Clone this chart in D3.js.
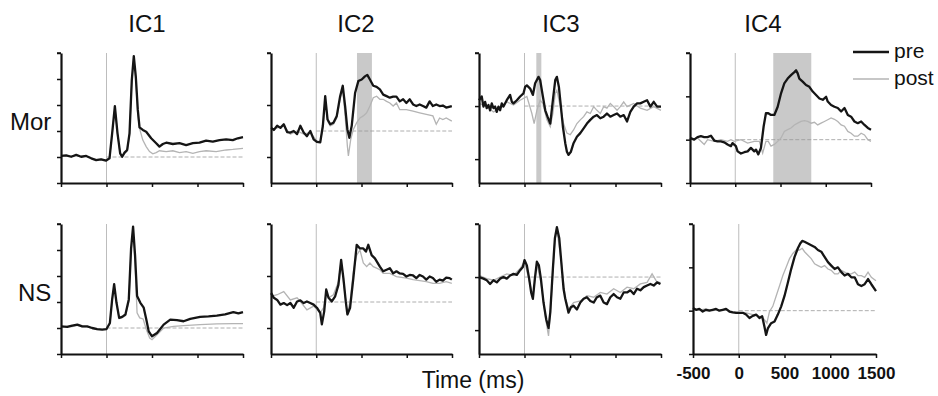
<!DOCTYPE html>
<html>
<head>
<meta charset="utf-8">
<script src="https://cdn.jsdelivr.net/npm/d3@7"></script>
<style>
  body { margin: 0; background: #fff; }
  svg { display: block; font-family: "Liberation Sans", Arial, sans-serif; }
</style>
</head>
<body>
<svg id="chart" width="938" height="396"></svg>
<script>
// time (ms), amplitude (a.u.) pairs
const ic1MorPre = [[-500,0.04],[-443,0.06],[-388,0.01],[-333,0.08],[-278,0.01],[-223,0.04],[-168,-0.05],[-114,-0.12],[-59,-0.09],[-4,-0.14],[33,-0.05],[62,0.91],[92,1.96],[121,0.91],[150,0.14],[172,0.01],[198,0.17],[227,0.27],[253,0.91],[278,2.96],[300,3.88],[322,3.09],[344,1.81],[363,1.14],[399,1.04],[436,0.97],[491,0.72],[546,0.53],[582,0.40],[619,0.50],[656,0.55],[729,0.50],[802,0.53],[875,0.46],[949,0.53],[1022,0.55],[1095,0.63],[1168,0.59],[1242,0.65],[1315,0.68],[1388,0.65],[1443,0.72],[1500,0.76]];
const ic1MorPost = [[-500,0.02],[-443,0.05],[-388,0.03],[-333,0.06],[-278,0.0],[-223,0.03],[-168,-0.04],[-114,-0.1],[-59,-0.08],[-4,-0.12],[33,-0.04],[62,0.85],[92,1.9],[121,0.9],[150,0.12],[172,0.0],[198,0.12],[227,0.22],[253,0.85],[278,2.9],[300,3.8],[322,2.96],[344,1.62],[363,1.10],[399,0.65],[436,0.40],[473,0.21],[509,0.12],[546,0.17],[582,0.24],[656,0.21],[729,0.24],[802,0.17],[875,0.21],[949,0.14],[1022,0.21],[1095,0.24],[1205,0.21],[1315,0.27],[1388,0.29],[1500,0.33]];
const ic1NsPre = [[-500,0.06],[-431,0.04],[-376,0.09],[-321,0.13],[-266,0.06],[-212,0.06],[-157,0.0],[-102,-0.04],[-47,-0.06],[0,-0.04],[37,0.19],[62,1.10],[84,1.69],[110,0.97],[139,0.39],[172,0.43],[208,0.52],[245,1.10],[270,3.05],[292,3.90],[314,2.79],[336,1.23],[372,0.97],[409,0.78],[438,0.32],[464,-0.13],[500,-0.32],[555,-0.19],[628,0.13],[701,0.32],[774,0.30],[847,0.26],[920,0.35],[1029,0.43],[1121,0.45],[1212,0.48],[1303,0.52],[1394,0.61],[1449,0.56],[1500,0.61]];
const ic1NsPost = [[-500,0.04],[-431,0.06],[-376,0.05],[-321,0.1],[-266,0.04],[-212,0.05],[-157,-0.02],[-102,-0.06],[-47,-0.05],[0,-0.05],[37,0.15],[62,1.05],[84,1.62],[110,0.95],[139,0.36],[172,0.40],[208,0.48],[245,1.0],[270,2.95],[292,3.85],[314,2.40],[336,0.58],[365,0.39],[402,0.35],[438,-0.06],[475,-0.39],[500,-0.45],[555,-0.26],[628,0.0],[737,0.06],[847,0.09],[1029,0.13],[1212,0.16],[1394,0.17],[1500,0.17]];

const ic2MorPre = [[-498,0.06],[-469,0.02],[-432,0.10],[-396,0.06],[-359,0.13],[-322,-0.02],[-286,-0.03],[-249,0.0],[-212,-0.06],[-176,0.10],[-139,-0.03],[-103,-0.10],[-66,0.0],[-29,-0.16],[7,-0.21],[44,-0.22],[73,0.10],[99,0.67],[125,0.22],[154,0.13],[190,0.16],[227,0.29],[264,0.67],[293,0.87],[319,0.48],[344,0.03],[366,-0.13],[392,0.10],[429,0.73],[465,0.96],[502,0.99],[538,1.05],[564,1.08],[593,0.99],[630,0.87],[667,0.85],[703,0.80],[740,0.70],[777,0.67],[813,0.64],[850,0.66],[886,0.66],[923,0.57],[960,0.61],[996,0.54],[1033,0.61],[1070,0.51],[1106,0.48],[1143,0.51],[1179,0.48],[1216,0.45],[1253,0.57],[1289,0.48],[1326,0.51],[1363,0.48],[1399,0.49],[1436,0.45],[1498,0.48]];
const ic2MorPost = [[-498,0.02],[-432,0.06],[-359,0.10],[-286,-0.06],[-212,0.0],[-139,-0.06],[-66,-0.03],[7,-0.19],[44,-0.21],[73,0.06],[99,0.61],[125,0.19],[154,0.10],[190,0.13],[227,0.25],[264,0.61],[293,0.80],[319,0.29],[344,-0.29],[355,-0.48],[381,-0.16],[410,0.03],[447,0.16],[483,0.25],[520,0.29],[557,0.35],[593,0.48],[630,0.64],[667,0.67],[703,0.61],[740,0.61],[777,0.57],[813,0.54],[850,0.48],[886,0.54],[923,0.41],[996,0.41],[1070,0.38],[1143,0.35],[1216,0.32],[1289,0.29],[1326,0.13],[1363,0.25],[1399,0.22],[1436,0.25],[1498,0.19]];
const ic2NsPre = [[-498,0.17],[-469,0.08],[-432,0.04],[-396,-0.05],[-359,-0.02],[-322,-0.06],[-286,-0.02],[-249,-0.11],[-212,0.01],[-176,0.03],[-139,-0.02],[-103,0.01],[-66,-0.02],[-29,-0.05],[7,-0.11],[44,-0.21],[62,-0.43],[88,-0.18],[110,0.24],[136,0.08],[172,0.01],[209,0.11],[245,0.33],[275,0.81],[300,0.46],[326,0.01],[344,-0.24],[374,-0.11],[410,0.46],[447,1.10],[483,1.03],[520,1.03],[549,0.97],[575,1.10],[612,0.90],[648,0.84],[703,0.68],[740,0.59],[777,0.62],[813,0.65],[850,0.55],[886,0.59],[923,0.55],[960,0.54],[996,0.49],[1033,0.52],[1070,0.51],[1106,0.46],[1143,0.52],[1179,0.49],[1216,0.43],[1253,0.49],[1289,0.46],[1326,0.39],[1363,0.43],[1399,0.41],[1436,0.47],[1473,0.46],[1498,0.43]];
const ic2NsPost = [[-498,0.11],[-432,0.14],[-359,0.20],[-286,0.04],[-212,0.08],[-176,0.01],[-103,-0.15],[-29,-0.08],[44,-0.21],[81,-0.11],[110,0.17],[136,0.08],[190,0.14],[245,0.39],[275,0.78],[300,0.39],[344,-0.21],[374,0.01],[410,0.59],[447,0.90],[483,1.0],[520,0.75],[557,0.68],[593,0.75],[630,0.68],[667,0.65],[703,0.62],[740,0.55],[813,0.55],[886,0.49],[996,0.46],[1070,0.43],[1143,0.41],[1216,0.39],[1289,0.36],[1363,0.36],[1436,0.39],[1498,0.36]];

const ic3MorPre = [[-500,0.11],[-470,0.18],[-451,-0.01],[-433,0.08],[-415,-0.04],[-396,0.02],[-378,-0.08],[-360,0.05],[-341,-0.04],[-323,-0.01],[-305,-0.11],[-286,-0.01],[-268,-0.08],[-250,0.05],[-231,-0.01],[-195,0.11],[-158,0.21],[-139,0.08],[-121,0.05],[-84,0.11],[-48,0.18],[-11,0.24],[7,0.36],[26,0.39],[62,0.33],[92,0.21],[117,0.43],[154,0.55],[172,0.49],[202,0.18],[228,-0.08],[253,-0.20],[283,-0.33],[312,0.11],[338,0.49],[356,0.55],[378,0.36],[400,-0.01],[422,-0.39],[448,-0.70],[466,-0.86],[484,-0.92],[510,-0.86],[539,-0.70],[576,-0.58],[613,-0.51],[650,-0.42],[686,-0.33],[723,-0.26],[760,-0.20],[796,-0.17],[833,-0.23],[870,-0.20],[906,-0.14],[943,-0.20],[980,-0.17],[1017,-0.14],[1053,-0.20],[1090,-0.17],[1127,-0.29],[1163,-0.11],[1200,-0.01],[1237,0.05],[1273,0.05],[1310,0.08],[1347,0.11],[1384,-0.01],[1420,0.08],[1457,-0.01],[1500,-0.01]];
const ic3MorPost = [[-500,0.05],[-415,-0.01],[-341,-0.11],[-268,-0.04],[-195,0.08],[-121,0.02],[-48,0.11],[26,0.18],[81,-0.14],[106,-0.33],[136,-0.08],[172,0.11],[202,0.05],[246,-0.26],[283,-0.39],[312,-0.14],[338,0.24],[356,0.30],[393,-0.01],[429,-0.33],[466,-0.51],[503,-0.54],[539,-0.45],[576,-0.33],[613,-0.26],[650,-0.20],[686,-0.11],[723,-0.14],[760,-0.01],[796,-0.08],[833,-0.14],[870,-0.01],[906,-0.04],[943,0.05],[980,-0.01],[1017,-0.08],[1053,-0.01],[1090,0.08],[1127,-0.01],[1200,0.05],[1273,-0.04],[1347,-0.08],[1420,-0.01],[1500,-0.08]];
const ic3NsPre = [[-500,0.0],[-451,-0.03],[-415,-0.06],[-378,-0.13],[-341,-0.06],[-305,-0.10],[-268,-0.03],[-231,0.0],[-195,-0.03],[-158,0.03],[-121,0.06],[-84,0.04],[-48,0.13],[-18,0.19],[0,0.32],[26,0.22],[51,-0.03],[73,-0.29],[92,-0.41],[114,-0.03],[136,0.29],[158,0.22],[180,-0.03],[209,-0.48],[239,-0.80],[264,-0.96],[283,-0.67],[312,0.16],[334,0.73],[356,0.94],[382,0.73],[404,0.29],[429,-0.22],[448,-0.41],[466,-0.54],[484,-0.67],[510,-0.57],[539,-0.54],[576,-0.61],[613,-0.48],[650,-0.41],[686,-0.38],[723,-0.45],[760,-0.48],[796,-0.38],[833,-0.35],[870,-0.48],[906,-0.51],[943,-0.38],[980,-0.32],[1017,-0.38],[1053,-0.41],[1090,-0.29],[1127,-0.29],[1163,-0.25],[1200,-0.32],[1237,-0.22],[1273,-0.25],[1310,-0.19],[1347,-0.16],[1384,-0.13],[1420,-0.16],[1457,-0.10],[1494,-0.13]];
const ic3NsPost = [[-500,0.03],[-415,-0.03],[-341,-0.06],[-268,0.0],[-195,0.06],[-121,0.03],[-48,0.16],[0,0.29],[51,-0.06],[92,-0.38],[136,0.25],[180,-0.10],[239,-0.86],[264,-1.11],[283,-0.73],[334,0.70],[356,0.89],[404,0.29],[448,-0.38],[484,-0.61],[539,-0.48],[613,-0.45],[686,-0.35],[760,-0.38],[833,-0.29],[906,-0.32],[980,-0.22],[1053,-0.29],[1127,-0.19],[1200,-0.22],[1273,-0.13],[1347,-0.10],[1402,0.06],[1457,-0.10],[1494,-0.10]];

const ic4MorPre = [[-500,0.04],[-454,0.0],[-417,0.06],[-380,0.08],[-343,0.06],[-306,0.06],[-269,0.09],[-232,-0.02],[-196,-0.04],[-159,-0.04],[-122,-0.06],[-85,-0.11],[-48,-0.15],[-30,-0.08],[7,-0.15],[26,-0.27],[63,-0.32],[100,-0.29],[137,-0.27],[173,-0.19],[210,-0.27],[229,-0.23],[255,-0.34],[284,-0.19],[314,0.31],[339,0.61],[365,0.61],[395,0.57],[432,0.57],[469,0.76],[506,1.07],[542,1.30],[579,1.41],[616,1.49],[653,1.56],[672,1.60],[690,1.53],[708,1.41],[745,1.34],[782,1.26],[819,1.22],[856,1.11],[893,1.03],[930,0.95],[967,0.92],[1004,0.99],[1022,0.88],[1059,0.80],[1096,0.76],[1133,0.73],[1170,0.65],[1207,0.73],[1244,0.57],[1280,0.53],[1317,0.42],[1354,0.38],[1391,0.42],[1428,0.34],[1465,0.27],[1500,0.23]];
const ic4MorPost = [[-500,0.0],[-417,0.04],[-343,-0.11],[-306,0.0],[-232,-0.04],[-159,0.0],[-85,-0.04],[-48,0.0],[-11,-0.04],[63,0.0],[137,-0.08],[210,-0.04],[266,-0.04],[303,-0.31],[339,-0.04],[365,-0.04],[395,-0.15],[432,-0.11],[469,-0.04],[506,0.04],[542,0.19],[579,0.23],[616,0.27],[653,0.34],[690,0.38],[727,0.42],[764,0.44],[801,0.42],[838,0.38],[875,0.40],[911,0.34],[948,0.38],[985,0.42],[1022,0.46],[1059,0.50],[1096,0.47],[1133,0.42],[1170,0.34],[1207,0.31],[1244,0.19],[1280,0.15],[1317,0.08],[1354,0.08],[1391,0.15],[1428,0.11],[1465,0.0],[1500,-0.04]];
const ic4NsPre = [[-500,0.06],[-467,0.02],[-431,0.04],[-394,-0.02],[-358,0.02],[-321,0.0],[-285,0.02],[-248,0.04],[-212,0.0],[-175,0.02],[-139,0.04],[-102,-0.02],[-66,-0.04],[-29,-0.05],[0,-0.05],[44,-0.05],[80,-0.09],[117,-0.17],[153,-0.12],[190,-0.09],[226,-0.17],[256,-0.13],[281,-0.37],[299,-0.56],[318,-0.41],[354,-0.29],[391,-0.25],[427,-0.09],[464,0.10],[500,0.34],[537,0.65],[573,0.96],[610,1.24],[646,1.44],[672,1.55],[694,1.61],[719,1.59],[756,1.55],[792,1.51],[829,1.47],[865,1.40],[902,1.36],[938,1.24],[975,1.12],[1011,1.04],[1048,0.96],[1084,1.0],[1121,0.89],[1157,0.81],[1194,0.85],[1230,0.77],[1267,0.77],[1303,0.61],[1340,0.57],[1376,0.61],[1413,0.73],[1449,0.61],[1500,0.45]];
const ic4NsPost = [[-500,0.02],[-431,0.01],[-358,0.04],[-285,0.0],[-212,0.02],[-139,0.01],[-66,-0.02],[0,-0.04],[80,-0.05],[153,-0.09],[226,-0.13],[263,-0.17],[281,-0.21],[307,-0.29],[336,-0.02],[372,0.10],[409,0.34],[445,0.57],[482,0.81],[518,1.0],[555,1.20],[591,1.32],[628,1.40],[664,1.40],[694,1.44],[719,1.36],[756,1.28],[792,1.20],[829,1.08],[865,1.04],[902,1.0],[938,1.04],[975,0.96],[1011,0.93],[1048,0.85],[1084,0.85],[1121,0.93],[1157,0.89],[1194,0.85],[1230,0.85],[1267,0.89],[1303,0.81],[1340,0.81],[1376,0.77],[1413,0.89],[1449,0.77],[1500,0.69]];

// analysis windows (ms) shaded in the Mor row
const ic2Window = [450, 615];
const ic3Window = [130, 185];
const ic4Window = [420, 840];

const components = ['IC1', 'IC2', 'IC3', 'IC4'];
const conditions = ['Mor', 'NS'];
const timeTicks = [-500, 0, 500, 1000, 1500];
const yDomains = [[-1, 4], [-1, 1.5], [-1.45, 1], [-1, 2]];
const yTickValues = [[-1, 0, 1, 2, 3, 4], [-0.5, 0.5, 1.5], [-1, 0, 1], [-1, 0, 1, 2]];
const seriesNames = ['pre', 'post'];

const series = [
  [[ic1MorPre, ic1MorPost], [ic1NsPre, ic1NsPost]],
  [[ic2MorPre, ic2MorPost], [ic2NsPre, ic2NsPost]],
  [[ic3MorPre, ic3MorPost], [ic3NsPre, ic3NsPost]],
  [[ic4MorPre, ic4MorPost], [ic4NsPre, ic4NsPost]]
];
const windows = [null, ic2Window, ic3Window, ic4Window];

// layout
const colX = [[61, 243], [271, 452], [479, 661], [690, 871]];
const rowY = [[183, 53], [354, 224]];
const titleX = [147, 356, 561, 763];

const svg = d3.select('#chart');
const preColor = '#151515';
const postColor = '#b4b4b4';

components.forEach((ic, c) => {
  conditions.forEach((cond, r) => {
    let xr = colX[c].slice();
    if (c === 3 && r === 1) xr = [693, 876];
    const x = d3.scaleLinear().domain([-500, 1500]).range(xr);
    const y = d3.scaleLinear().domain(yDomains[c]).range(rowY[r]);
    const g = svg.append('g');

    // shaded window (Mor row only)
    if (r === 0 && windows[c]) {
      g.append('rect')
        .attr('x', x(windows[c][0]))
        .attr('y', y.range()[1])
        .attr('width', x(windows[c][1]) - x(windows[c][0]))
        .attr('height', y.range()[0] - y.range()[1])
        .attr('fill', '#c9c9c9');
    }

    // stimulus onset
    g.append('line')
      .attr('x1', x(0)).attr('x2', x(0))
      .attr('y1', y.range()[1]).attr('y2', y.range()[0])
      .attr('stroke', '#bdbdbd').attr('stroke-width', 1);

    // zero baseline
    g.append('line')
      .attr('x1', x(0)).attr('x2', x(1500))
      .attr('y1', y(0)).attr('y2', y(0))
      .attr('stroke', '#9a9a9a').attr('stroke-width', 0.8)
      .attr('stroke-dasharray', '4,2');

    const line = d3.line().x(d => x(d[0])).y(d => y(d[1]));
    const [pre, post] = series[c][r];

    g.append('path').datum(post)
      .attr('d', line).attr('fill', 'none')
      .attr('stroke', postColor).attr('stroke-width', 1.3);
    g.append('path').datum(pre)
      .attr('d', line).attr('fill', 'none')
      .attr('stroke', preColor).attr('stroke-width', 2.3)
      .attr('stroke-linejoin', 'round');

    // axes
    const showLabels = (c === 3 && r === 1);
    const xAxis = d3.axisBottom(x).tickValues(timeTicks).tickSize(4).tickSizeOuter(0)
      .tickFormat(showLabels ? d3.format('d') : '');
    const gx = g.append('g').attr('transform', `translate(0,${y.range()[0]})`).call(xAxis);
    const yAxis = d3.axisLeft(y).tickValues(yTickValues[c]).tickSize(4).tickSizeOuter(0).tickFormat('');
    const gy = g.append('g').attr('transform', `translate(${xr[0]},0)`).call(yAxis);

    [gx, gy].forEach(a => {
      a.select('.domain').attr('stroke', '#111').attr('stroke-width', 2.2);
      a.selectAll('.tick line').attr('stroke', '#111').attr('stroke-width', 1.5);
    });
    gy.append('line').attr('x1', -4).attr('x2', 0)
      .attr('y1', y.range()[1]).attr('y2', y.range()[1])
      .attr('stroke', '#111').attr('stroke-width', 1.5);
    if (showLabels) {
      gx.selectAll('.tick text')
        .attr('font-family', '"Liberation Sans", Arial, sans-serif')
        .attr('font-size', 17).attr('font-weight', 'bold')
        .attr('fill', '#111').attr('dy', '1.05em')
        .text(d => d < 0 ? '-' + Math.abs(d) : d);
    }
  });

  svg.append('text')
    .attr('x', titleX[c]).attr('y', 32)
    .attr('text-anchor', 'middle')
    .attr('font-size', 24).attr('fill', '#111')
    .text(ic);
});

// row labels
svg.append('text').attr('x', 10).attr('y', 130).attr('font-size', 24).attr('fill', '#111').text(conditions[0]);
svg.append('text').attr('x', 18).attr('y', 301).attr('font-size', 24).attr('fill', '#111').text(conditions[1]);

// x label
svg.append('text').attr('x', 473).attr('y', 388).attr('text-anchor', 'middle')
  .attr('font-size', 23).attr('fill', '#111').text('Time (ms)');

// legend
const legend = svg.append('g');
seriesNames.forEach((name, i) => {
  const ly = 52 + i * 27;
  legend.append('line')
    .attr('x1', 853).attr('x2', 889).attr('y1', ly).attr('y2', ly)
    .attr('stroke', i === 0 ? preColor : postColor)
    .attr('stroke-width', i === 0 ? 2.3 : 1.3);
  legend.append('text')
    .attr('x', 894).attr('y', ly + 6)
    .attr('font-size', 21).attr('fill', '#111')
    .text(name);
});
</script>
</body>
</html>
